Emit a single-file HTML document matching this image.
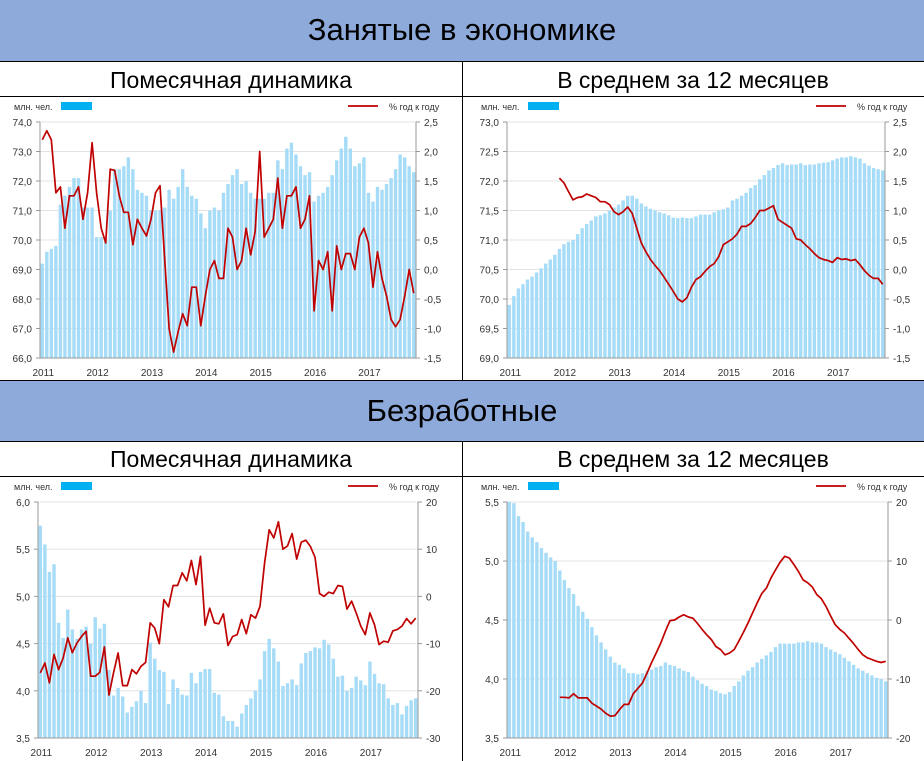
<!DOCTYPE html>
<html><head><meta charset="utf-8">
<style>
html,body{margin:0;padding:0;background:#fff;}
body{width:924px;height:761px;position:relative;overflow:hidden;font-family:"Liberation Sans","DejaVu Sans",sans-serif;}
.hdr{position:absolute;left:0;width:924px;background:#8eaadb;border-top:1px solid #000;border-bottom:1px solid #000;text-align:center;color:#000;font-size:31px;box-sizing:border-box;}
.sub{position:absolute;width:462px;text-align:center;font-size:23px;color:#000;}
.vline{position:absolute;width:1px;background:#000;}
.hline{position:absolute;height:1px;background:#000;left:0;width:924px;}
svg{position:absolute;left:0;top:0;}
</style></head>
<body>
<div class="hdr" style="top:0;height:62px;line-height:60px;border-top:none;">Занятые в экономике</div>
<div class="sub" style="left:0;top:64px;line-height:32px;">Помесячная динамика</div>
<div class="sub" style="left:462px;top:64px;line-height:32px;">В среднем за 12 месяцев</div>
<div class="hline" style="top:96px"></div>
<div class="vline" style="left:462px;top:62px;height:318px"></div>
<div class="hdr" style="top:380px;height:62px;line-height:60px;">Безработные</div>
<div class="sub" style="left:0;top:443px;line-height:33px;">Помесячная динамика</div>
<div class="sub" style="left:462px;top:443px;line-height:33px;">В среднем за 12 месяцев</div>
<div class="hline" style="top:476px"></div>
<div class="vline" style="left:462px;top:442px;height:319px"></div>
<svg id="svg" width="924" height="761"></svg>
<script>
const years = ["2011","2012","2013","2014","2015","2016","2017"];
const empBars = [69.2,69.6,69.7,69.8,71.2,71.5,71.8,72.1,72.1,71.1,71.1,71.1,
70.1,70.1,70.0,71.0,72.4,72.4,72.5,72.8,72.4,71.7,71.6,71.5,
71.0,71.0,71.0,71.1,71.7,71.4,71.8,72.4,71.8,71.5,71.4,70.9,
70.4,71.0,71.1,71.0,71.6,71.9,72.2,72.4,71.9,72.0,71.6,71.4,
71.4,71.4,71.6,71.6,72.7,72.4,73.1,73.3,72.9,72.5,72.2,72.3,
71.3,71.5,71.6,71.8,72.2,72.7,73.1,73.5,73.1,72.5,72.6,72.8,
71.6,71.3,71.8,71.7,71.9,72.1,72.4,72.9,72.8,72.5,72.3];
const empYoy = [2.2,2.35,2.2,1.3,1.4,0.7,1.25,1.25,1.4,0.85,1.3,2.15,
1.3,0.7,0.45,1.7,1.68,1.25,0.97,0.97,0.42,0.85,0.7,0.57,
0.85,1.3,1.42,0.2,-1.0,-1.4,-1.05,-0.75,-0.95,-0.3,-0.3,-0.95,
-0.45,0.0,0.15,-0.15,-0.15,0.7,0.55,0.0,0.15,0.7,0.25,0.65,
2.0,0.55,0.7,0.85,1.55,0.7,1.25,1.25,1.4,0.7,0.85,1.25,
-0.7,0.15,0.0,0.3,-0.7,0.4,0.0,0.27,0.27,0.0,0.55,0.7,
0.45,-0.3,0.3,-0.15,-0.45,-0.85,-0.97,-0.85,-0.45,0.0,-0.4];
const empAvgBars = [69.9,70.05,70.18,70.25,70.33,70.38,70.45,70.52,70.6,70.67,70.75,70.85,
70.93,70.97,71.0,71.1,71.2,71.27,71.33,71.4,71.42,71.45,71.5,71.55,
71.6,71.67,71.75,71.75,71.7,71.62,71.57,71.53,71.5,71.47,71.45,71.42,
71.38,71.37,71.38,71.37,71.37,71.4,71.43,71.43,71.43,71.47,71.5,71.52,
71.55,71.67,71.7,71.75,71.8,71.88,71.93,72.03,72.1,72.18,72.22,72.27,
72.3,72.27,72.28,72.28,72.3,72.27,72.28,72.28,72.3,72.31,72.32,72.35,
72.38,72.4,72.4,72.42,72.4,72.38,72.3,72.26,72.22,72.2,72.18];
const empAvgYoy = [null,null,null,null,null,null,null,null,null,null,null,1.55,
1.47,1.32,1.18,1.22,1.23,1.28,1.25,1.22,1.15,1.15,1.1,0.98,
0.93,0.98,1.06,0.95,0.7,0.45,0.3,0.17,0.07,-0.02,-0.13,-0.25,
-0.37,-0.5,-0.55,-0.48,-0.3,-0.17,-0.12,-0.03,0.05,0.1,0.22,0.42,
0.47,0.52,0.6,0.73,0.73,0.78,0.88,1.0,1.0,1.04,1.08,0.85,
0.8,0.75,0.7,0.52,0.5,0.42,0.35,0.27,0.2,0.17,0.15,0.12,
0.2,0.17,0.18,0.15,0.17,0.08,-0.02,-0.1,-0.15,-0.15,-0.25];
const unBars = [5.75,5.55,5.26,5.34,4.72,4.56,4.86,4.65,4.55,4.65,4.68,4.5,
4.78,4.66,4.71,4.22,3.95,4.03,3.94,3.77,3.83,3.89,4.0,3.87,
4.51,4.34,4.22,4.2,3.86,4.12,4.03,3.96,3.95,4.19,4.08,4.2,
4.23,4.23,3.98,3.96,3.73,3.68,3.68,3.62,3.76,3.85,3.92,4.0,
4.12,4.42,4.55,4.45,4.31,4.05,4.08,4.12,4.06,4.29,4.4,4.42,
4.46,4.45,4.54,4.49,4.34,4.15,4.16,4.0,4.03,4.15,4.11,4.06,
4.31,4.18,4.08,4.07,3.92,3.85,3.87,3.75,3.84,3.9,3.92];
const unYoy = [-16.2,-14.1,-18.3,-12.3,-15.5,-13,-8.8,-11.9,-9.9,-8.5,-7.4,-16.9,
-16.9,-16.1,-10.7,-20.9,-16.2,-12,-18.9,-18.9,-15.5,-16.4,-14.8,-14,
-5.6,-6.7,-10,-0.7,-2.2,2.3,2.3,5,3.3,7.6,2.5,8.5,
-6.1,-2.5,-5.6,-5.8,-3.7,-10.4,-8.5,-8.1,-4.9,-7.9,-3.9,-4.6,
-2.1,7.1,14.1,12.4,15.8,10,10.7,13.3,7.9,11.5,11.9,10.6,
8.3,0.6,0,0.9,0.6,2.3,2.1,-2.7,-1,-3.5,-6.3,-8.1,
-3.5,-6,-10.2,-9.5,-9.7,-7.3,-7,-6.3,-4.7,-5.8,-4.6];
const unAvgBars = [5.5,5.49,5.38,5.33,5.25,5.2,5.16,5.11,5.07,5.03,5.0,4.92,
4.84,4.77,4.72,4.62,4.57,4.51,4.44,4.37,4.31,4.25,4.19,4.14,
4.12,4.09,4.05,4.05,4.04,4.05,4.07,4.08,4.1,4.11,4.14,4.12,
4.11,4.09,4.07,4.06,4.02,3.99,3.96,3.94,3.91,3.9,3.88,3.87,
3.89,3.94,3.98,4.03,4.07,4.1,4.14,4.17,4.2,4.23,4.27,4.3,
4.3,4.3,4.3,4.31,4.31,4.32,4.31,4.31,4.3,4.27,4.25,4.23,
4.21,4.18,4.15,4.12,4.09,4.07,4.05,4.03,4.01,4.0,3.98];
const unAvgYoy = [null,null,null,null,null,null,null,null,null,null,null,-13.1,
-13.1,-13.2,-12.5,-13.2,-13.2,-13.2,-14.1,-14.6,-15.1,-15.8,-16.3,-16.2,
-15.2,-14.3,-14.3,-12.5,-11.6,-10.7,-9,-7.2,-5.6,-3.9,-1.9,-0.1,
0,0.5,0.9,0.5,0.3,-0.6,-1.6,-2.5,-3.3,-4.5,-5,-5.9,
-5.6,-5,-3.6,-2.1,-0.5,1.2,2.9,4.5,5.4,7.1,8.5,9.8,
10.8,10.5,9.4,8.2,6.8,6.3,5.6,4.3,3.6,2.3,0.7,-0.8,
-1.6,-2.2,-3.1,-4,-5,-5.9,-6.4,-6.7,-7,-7.2,-7];
const empLeftTicks = ["66,0","67,0","68,0","69,0","70,0","71,0","72,0","73,0","74,0"];
const empRightTicks = ["-1,5","-1,0","-0,5","0,0","0,5","1,0","1,5","2,0","2,5"];
const empAvgLeftTicks = ["69,0","69,5","70,0","70,5","71,0","71,5","72,0","72,5","73,0"];
const unLeftTicks = ["3,5","4,0","4,5","5,0","5,5","6,0"];
const unRightTicks = ["-30","-20","-10","0","10","20"];
const unAvgLeftTicks = ["3,5","4,0","4,5","5,0","5,5"];
const unAvgRightTicks = ["-20","-10","0","10","20"];

const NS="http://www.w3.org/2000/svg";
const svg=document.getElementById('svg');
function mk(tag,attrs,parent){const e=document.createElementNS(NS,tag);for(const k in attrs)e.setAttribute(k,attrs[k]);(parent||svg).appendChild(e);return e;}
function num(s){return parseFloat(s.replace(',','.'));}

function chart(cfg){
  const g=mk('g',{});
  
  
  const lmin=num(cfg.lt[0]),lmax=num(cfg.lt[cfg.lt.length-1]);
  const rmin=num(cfg.rt[0]),rmax=num(cfg.rt[cfg.rt.length-1]);
  const yL=v=>cfg.yb-(v-lmin)/(lmax-lmin)*(cfg.yb-cfg.yt);
  const yR=v=>cfg.yb-(v-rmin)/(rmax-rmin)*(cfg.yb-cfg.yt);
  const n=cfg.bars.length, step=(cfg.x1-cfg.x0)/n;
  const xC=i=>cfg.x0+step*(i+0.5);
  // grid
  cfg.lt.forEach(t=>{const y=yL(num(t));
    const gl=mk('line',{x1:cfg.x0,x2:cfg.x1,y1:y,y2:y,stroke:'#e3e3e3','stroke-width':1},g);
    
    
    const tl=mk('text',{x:cfg.x0-8,y:y+4,'text-anchor':'end','font-size':10,fill:'#333'},g);
    tl.textContent=t;
    
    
    mk('line',{x1:cfg.x0-4,x2:cfg.x0,y1:y,y2:y,stroke:'#999'},g);
  });
  cfg.rt.forEach(t=>{const y=yR(num(t));
    const tl=mk('text',{x:cfg.x1+8,y:y+4,'text-anchor':'start','font-size':10,fill:'#333'},g);
    tl.textContent=t;
    
    
    mk('line',{x1:cfg.x1,x2:cfg.x1+4,y1:y,y2:y,stroke:'#999'},g);
  });
  // bars
  cfg.bars.forEach((v,i)=>{const y=yL(v);
    const b=mk('rect',{x:xC(i)-1.7,y:y,width:3.4,height:cfg.yb-y,fill:'#a6dcf7'},g);
    
    
  });
  // axes
  mk('line',{x1:cfg.x0,x2:cfg.x0,y1:cfg.yt,y2:cfg.yb,stroke:'#999'},g);
  mk('line',{x1:cfg.x1,x2:cfg.x1,y1:cfg.yt,y2:cfg.yb,stroke:'#999'},g);
  mk('line',{x1:cfg.x0,x2:cfg.x1,y1:cfg.yb,y2:cfg.yb,stroke:'#999'},g);
  // line
  let d='';cfg.line.forEach((v,i)=>{if(v===null)return;d+=(d?'L':'M')+xC(i).toFixed(1)+','+yR(v).toFixed(1);});
  const p=mk('path',{d:d,fill:'none',stroke:'#c00000','stroke-width':1.7,'stroke-linejoin':'round'},g);
  
  
  // years
  years.forEach((yr,k)=>{
    const t=mk('text',{x:xC(k*12)+1,y:cfg.yb+18,'text-anchor':'middle','font-size':10,fill:'#333'},g);
    t.textContent=yr;
    
    
  });
  // legend
  const lt=mk('text',{x:cfg.lx,y:cfg.ly+4,'font-size':9,fill:'#333'},g);
  lt.textContent='млн. чел.';
  
  
  const sw=mk('rect',{x:cfg.lx+47,y:cfg.ly-4,width:31,height:8,fill:'#00b0f0'},g);
  
  
  const ll=mk('line',{x1:cfg.rx,x2:cfg.rx+30,y1:cfg.ly,y2:cfg.ly,stroke:'#c00000','stroke-width':1.7},g);
  
  
  const rtx=mk('text',{x:cfg.rx+41,y:cfg.ly+4,'font-size':9,fill:'#333'},g);
  rtx.textContent='% год к году';
  
  
}
chart({name:'employed-monthly-chart',x0:40,x1:416,yt:122,yb:358,lt:empLeftTicks,rt:empRightTicks,bars:empBars,line:empYoy,lx:14,ly:106,rx:348});
chart({name:'employed-avg-chart',x0:507,x1:885,yt:122,yb:358,lt:empAvgLeftTicks,rt:empRightTicks,bars:empAvgBars,line:empAvgYoy,lx:481,ly:106,rx:816});
chart({name:'unemployed-monthly-chart',x0:38,x1:418,yt:502,yb:738,lt:unLeftTicks,rt:unRightTicks,bars:unBars,line:unYoy,lx:14,ly:486,rx:348});
chart({name:'unemployed-avg-chart',x0:507,x1:888,yt:502,yb:738,lt:unAvgLeftTicks,rt:unAvgRightTicks,bars:unAvgBars,line:unAvgYoy,lx:481,ly:486,rx:816});
</script>
</body></html>
